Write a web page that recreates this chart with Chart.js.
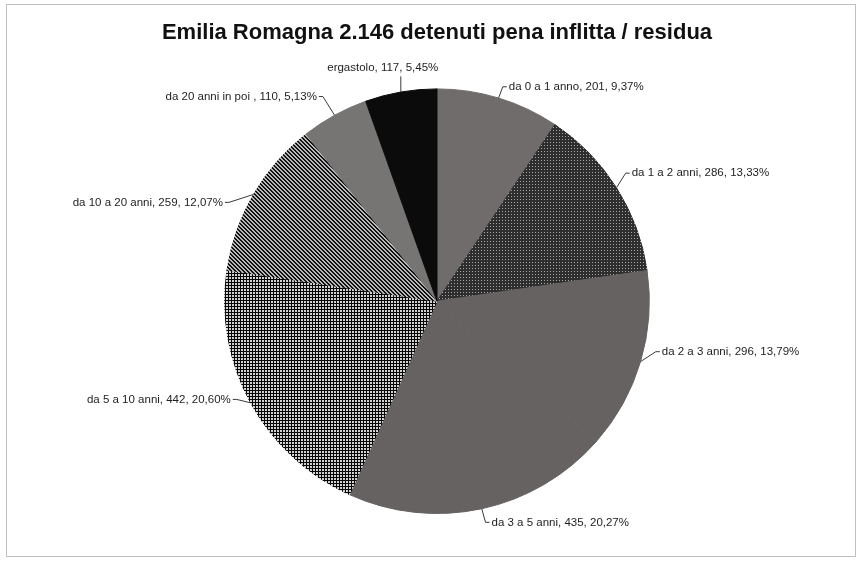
<!DOCTYPE html>
<html>
<head>
<meta charset="utf-8">
<script src="https://cdn.jsdelivr.net/npm/chart.js@4/dist/chart.umd.min.js"></script>
<style>
  html, body { margin: 0; padding: 0; background: #fff; }
  #wrap { width: 862px; height: 563px; }
</style>
</head>
<body>
<div id="wrap"><canvas id="penaChart" width="862" height="563"></canvas></div>
<script>
// fasce di pena residua
var categorie = ['da 0 a 1 anno', 'da 1 a 2 anni', 'da 2 a 3 anni', 'da 3 a 5 anni',
                 'da 5 a 10 anni', 'da 10 a 20 anni', 'da 20 anni in poi ', 'ergastolo'];
// numero di detenuti per fascia
var detenuti = [201, 286, 296, 435, 442, 259, 110, 117];
var titolo = 'Emilia Romagna 2.146 detenuti pena inflitta / residua';

// riempimenti a trama (bianco e nero)
function trama(size, disegna) {
    var c = document.createElement('canvas');
    c.width = size; c.height = size;
    var g = c.getContext('2d');
    disegna(g);
    return g.createPattern(c, 'repeat');
}

var puntini = trama(3, function (g) {
    g.fillStyle = '#2e2e2e';
    g.fillRect(0, 0, 3, 3);
    g.fillStyle = '#a8a8a8';
    g.fillRect(1, 1, 1, 1);
});

var griglia = trama(3, function (g) {
    g.fillStyle = '#d2d2d2';
    g.fillRect(0, 0, 3, 3);
    g.fillStyle = '#050505';
    g.fillRect(0, 0, 3, 1);
    g.fillRect(0, 0, 1, 3);
});

var diagonali = trama(4, function (g) {
    g.fillStyle = '#b8b8b8';
    g.fillRect(0, 0, 4, 4);
    g.fillStyle = '#121212';
    for (var i = 0; i < 4; i++) {
        g.fillRect(i, i, 2, 1);
    }
    g.fillRect(0, 3, 1, 1);
});

var colori = ['#706c6c', puntini, '#666262', '#666262', griglia, diagonali, '#777474', '#0b0b0b'];

// spostamento manuale delle etichette rispetto alla posizione di base
var spostaEtichetta = [[5, 6], [0, -5], [4, -15], [6, -4], [-4, -12], [-15, 17], [-9, -3], [-15, -6]];

// cornice esterna e sfondo
var cornice = {
    id: 'cornice',
    beforeDraw: function (chart) {
        var ctx = chart.ctx;
        ctx.save();
        ctx.fillStyle = '#fff';
        ctx.fillRect(0, 0, chart.width, chart.height);
        ctx.strokeStyle = '#c4c0c0';
        ctx.lineWidth = 1;
        ctx.strokeRect(6.5, 4.5, 849, 552);
        ctx.restore();
    }
};

// etichette esterne con linee guida
var etichette = {
    id: 'etichette',
    afterDatasetsDraw: function (chart) {
        var ctx = chart.ctx;
        var meta = chart.getDatasetMeta(0);
        var dati = chart.data.datasets[0].data;
        var totale = dati.reduce(function (a, b) { return a + b; }, 0);
        ctx.save();
        ctx.font = '11.5px "Liberation Sans", Arial, sans-serif';
        ctx.fillStyle = '#1e1e1e';
        ctx.strokeStyle = '#3a3a3a';
        ctx.lineWidth = 1;
        ctx.textBaseline = 'middle';
        meta.data.forEach(function (arc, i) {
            var p = arc.getProps(['x', 'y', 'startAngle', 'endAngle', 'outerRadius'], true);
            var mid = (p.startAngle + p.endAngle) / 2;
            var dx = Math.cos(mid), dy = Math.sin(mid);
            var ax = p.x + dx * p.outerRadius, ay = p.y + dy * p.outerRadius;
            var tx = p.x + dx * (p.outerRadius + 18) + spostaEtichetta[i][0];
            var ty = p.y + dy * (p.outerRadius + 18) + spostaEtichetta[i][1];
            var perc = (dati[i] / totale * 100).toFixed(2).replace('.', ',');
            var testo = chart.data.labels[i] + ', ' + dati[i] + ', ' + perc + '%';

            ctx.beginPath();
            ctx.moveTo(ax, ay);
            if (Math.abs(dx) < 0.2) {
                ctx.textAlign = 'center';
                ctx.lineTo(ax, ty + 8);
            } else if (dx > 0) {
                ctx.textAlign = 'left';
                ctx.lineTo(tx - 6, ty);
                ctx.lineTo(tx - 2, ty);
            } else {
                ctx.textAlign = 'right';
                ctx.lineTo(tx + 6, ty);
                ctx.lineTo(tx + 2, ty);
            }
            ctx.stroke();
            ctx.fillText(testo, tx, ty);
        });
        ctx.restore();
    }
};

new Chart(document.getElementById('penaChart').getContext('2d'), {
    type: 'pie',
    data: {
        labels: categorie,
        datasets: [{
            data: detenuti,
            backgroundColor: colori,
            borderColor: colori,
            borderWidth: 1
        }]
    },
    options: {
        responsive: false,
        animation: false,
        layout: {
            padding: { left: 12, right: 0, top: 0, bottom: 49 }
        },
        plugins: {
            legend: { display: false },
            tooltip: { enabled: false },
            title: {
                display: true,
                text: titolo,
                color: '#111',
                font: { family: '"Liberation Sans", Arial, sans-serif', size: 22, weight: 'bold' },
                padding: { top: 20, bottom: 42 }
            }
        }
    },
    plugins: [cornice, etichette]
});
</script>
</body>
</html>
